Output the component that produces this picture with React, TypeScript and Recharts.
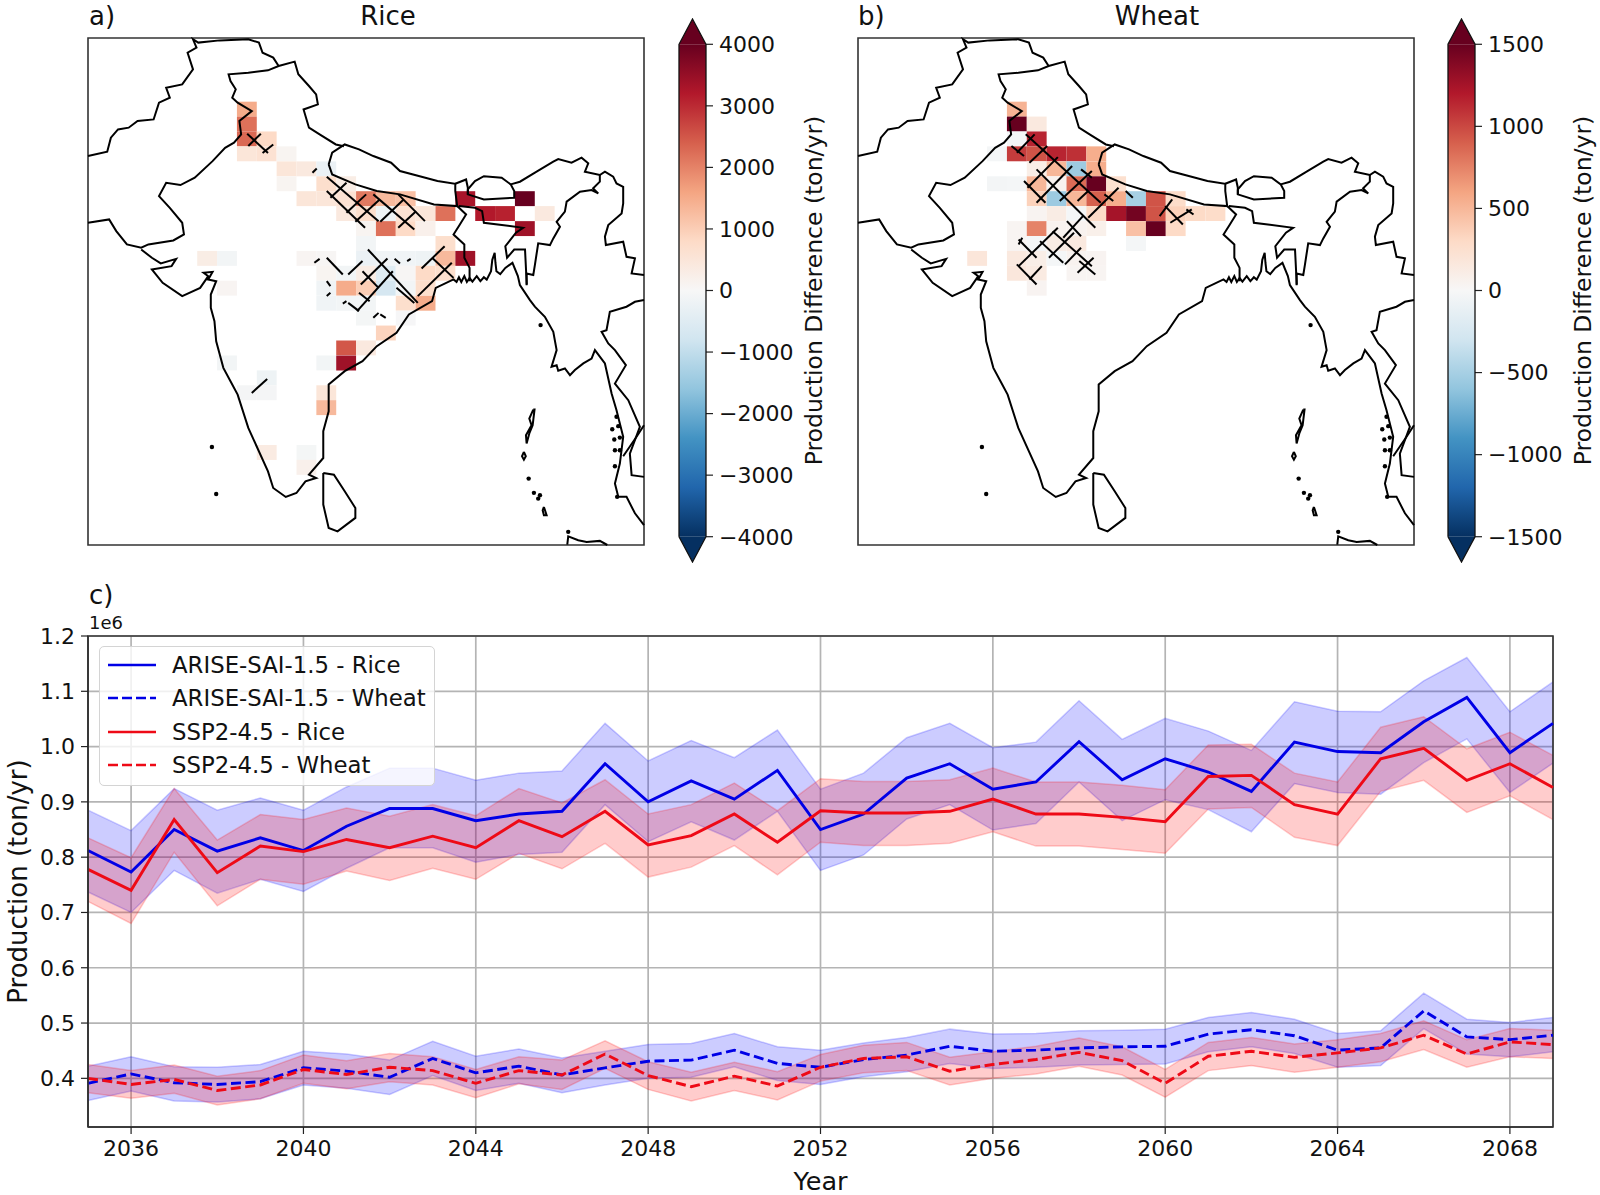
import React from 'react';
import {
  Area,
  CartesianGrid,
  ComposedChart,
  Line,
  ReferenceArea,
  ReferenceLine,
  Scatter,
  ScatterChart,
  XAxis,
  YAxis,
} from 'recharts';

const FONT = '"DejaVu Sans", sans-serif';

// ---- panel c: yearly production (million tons) ----
const years = [
  2035, 2036, 2037, 2038, 2039, 2040, 2041, 2042, 2043, 2044, 2045, 2046, 2047, 2048, 2049, 2050, 2051, 2052,
  2053, 2054, 2055, 2056, 2057, 2058, 2059, 2060, 2061, 2062, 2063, 2064, 2065, 2066, 2067, 2068, 2069,
];
const blueRice = [
  0.812, 0.773, 0.85, 0.811, 0.835, 0.812, 0.856, 0.888, 0.888, 0.866, 0.878, 0.883, 0.969, 0.9, 0.938, 0.905, 0.957,
  0.85, 0.878, 0.943, 0.969, 0.923, 0.936, 1.009, 0.94, 0.978, 0.954, 0.919, 1.008, 0.991, 0.989, 1.045, 1.089, 0.989,
  1.042,
];
const blueRiceHigh = [
  0.885, 0.848, 0.924, 0.885, 0.907, 0.885, 0.927, 0.961, 0.961, 0.939, 0.952, 0.956, 1.042, 0.974, 1.011, 0.98, 1.03,
  0.923, 0.952, 1.016, 1.042, 0.998, 1.008, 1.083, 1.013, 1.051, 1.028, 0.993, 1.081, 1.064, 1.063, 1.119, 1.161,
  1.063, 1.117,
];
const blueRiceLow = [
  0.737, 0.7, 0.776, 0.735, 0.76, 0.738, 0.78, 0.817, 0.817, 0.791, 0.805, 0.809, 0.895, 0.828, 0.864, 0.831, 0.883,
  0.776, 0.804, 0.869, 0.895, 0.849, 0.861, 0.936, 0.866, 0.904, 0.886, 0.846, 0.933, 0.917, 0.914, 0.971, 1.014,
  0.917, 0.97,
];
const redRice = [
  0.778, 0.74, 0.868, 0.772, 0.82, 0.81, 0.832, 0.817, 0.838, 0.817, 0.866, 0.837, 0.883, 0.822, 0.839, 0.878, 0.827,
  0.884, 0.88, 0.88, 0.883, 0.905, 0.878, 0.878, 0.872, 0.864, 0.946, 0.948, 0.895, 0.878, 0.978, 0.997, 0.939, 0.969,
  0.926,
];
const redRiceHigh = [
  0.835, 0.799, 0.924, 0.831, 0.877, 0.868, 0.889, 0.874, 0.895, 0.875, 0.924, 0.898, 0.94, 0.878, 0.895, 0.934,
  0.884, 0.942, 0.937, 0.937, 0.94, 0.961, 0.936, 0.936, 0.93, 0.922, 1.003, 1.004, 0.952, 0.936, 1.035, 1.054, 0.996,
  1.026, 0.984,
];
const redRiceLow = [
  0.72, 0.68, 0.809, 0.712, 0.76, 0.751, 0.775, 0.758, 0.78, 0.76, 0.807, 0.779, 0.825, 0.764, 0.782, 0.821, 0.768,
  0.827, 0.821, 0.821, 0.825, 0.846, 0.82, 0.82, 0.814, 0.807, 0.887, 0.89, 0.836, 0.821, 0.919, 0.939, 0.881, 0.911,
  0.868,
];
const blueWheat = [
  0.391, 0.408, 0.392, 0.389, 0.394, 0.419, 0.413, 0.402, 0.436, 0.41, 0.422, 0.406, 0.419, 0.431, 0.433, 0.451, 0.427,
  0.42, 0.434, 0.442, 0.458, 0.449, 0.451, 0.455, 0.457, 0.458, 0.48, 0.488, 0.477, 0.451, 0.455, 0.522, 0.475, 0.47,
  0.478,
];
const blueWheatHigh = [
  0.422, 0.439, 0.421, 0.42, 0.425, 0.449, 0.444, 0.433, 0.467, 0.44, 0.453, 0.437, 0.449, 0.461, 0.463, 0.481, 0.457,
  0.451, 0.464, 0.474, 0.489, 0.48, 0.481, 0.486, 0.487, 0.489, 0.51, 0.519, 0.507, 0.481, 0.486, 0.554, 0.507, 0.501,
  0.51,
];
const blueWheatLow = [
  0.36, 0.377, 0.359, 0.357, 0.363, 0.388, 0.382, 0.371, 0.405, 0.378, 0.391, 0.374, 0.388, 0.4, 0.402, 0.421, 0.396,
  0.389, 0.403, 0.412, 0.427, 0.418, 0.42, 0.424, 0.425, 0.426, 0.448, 0.457, 0.445, 0.42, 0.423, 0.49, 0.444, 0.439,
  0.448,
];
const redWheat = [
  0.4, 0.389, 0.398, 0.378, 0.388, 0.416, 0.407, 0.42, 0.414, 0.391, 0.414, 0.406, 0.444, 0.405, 0.385, 0.404, 0.386,
  0.42, 0.436, 0.439, 0.413, 0.425, 0.434, 0.447, 0.432, 0.391, 0.44, 0.449, 0.438, 0.446, 0.455, 0.478, 0.444, 0.466,
  0.461,
];
const redWheatHigh = [
  0.425, 0.414, 0.424, 0.404, 0.414, 0.442, 0.432, 0.445, 0.439, 0.416, 0.439, 0.433, 0.468, 0.43, 0.411, 0.429, 0.412,
  0.443, 0.46, 0.465, 0.438, 0.448, 0.458, 0.473, 0.457, 0.416, 0.465, 0.474, 0.462, 0.47, 0.481, 0.504, 0.47, 0.49,
  0.487,
];
const redWheatLow = [
  0.374, 0.364, 0.373, 0.352, 0.363, 0.391, 0.381, 0.394, 0.388, 0.365, 0.39, 0.38, 0.418, 0.38, 0.359, 0.378, 0.361,
  0.395, 0.41, 0.414, 0.388, 0.4, 0.408, 0.422, 0.406, 0.366, 0.414, 0.423, 0.411, 0.42, 0.43, 0.452, 0.42, 0.439,
  0.436,
];
const yearTicks = [2036, 2040, 2044, 2048, 2052, 2056, 2060, 2064, 2068];
const productionTicks = [0.4, 0.5, 0.6, 0.7, 0.8, 0.9, 1.0, 1.1, 1.2];
const legendItems = [
  { label: 'ARISE-SAI-1.5 - Rice', color: '#0000e6', dashed: false },
  { label: 'ARISE-SAI-1.5 - Wheat', color: '#0000e6', dashed: true },
  { label: 'SSP2-4.5 - Rice', color: '#ee0a16', dashed: false },
  { label: 'SSP2-4.5 - Wheat', color: '#ee0a16', dashed: true },
];

// ---- panels a, b: gridded difference, [lon centre, lat centre, ton/yr] ----
const riceCells = [
  [75, 32.51, 1500], [75, 31.57, 2200], [75, 30.63, 2300], [76.25, 30.63, 800], [75, 29.69, 500], [76.25, 29.69, 600],
  [77.5, 29.69, 100], [77.5, 28.74, 500], [78.75, 28.74, 400], [80, 28.74, -250], [77.5, 27.8, 100], [80, 27.8, 700],
  [81.25, 27.8, 300], [78.75, 26.86, 500], [80, 26.86, 500], [81.25, 26.86, 600], [82.5, 26.86, 2100],
  [83.75, 26.86, 1300], [85, 26.86, 1200], [88.75, 26.86, 3300], [92.5, 26.86, 4000], [81.25, 25.92, 400],
  [82.5, 25.92, 700], [83.75, 25.92, -200], [85, 25.92, 600], [86.25, 25.92, 500], [87.5, 25.92, 2200],
  [90, 25.92, 3200], [91.25, 25.92, 3100], [93.75, 25.92, 400], [82.5, 24.97, 100], [83.75, 24.97, 2200],
  [85, 24.97, 800], [86.25, 24.97, 200], [92.5, 24.97, 3400], [82.5, 24.03, -100], [87.5, 24.03, 700],
  [72.5, 23.09, 300], [73.75, 23.09, -100], [78.75, 23.09, 80], [80, 23.09, 50], [82.5, 23.09, -250],
  [83.75, 23.09, -150], [85, 23.09, -150], [86.25, 23.09, -200], [87.5, 23.09, 1300], [88.75, 23.09, 3400],
  [80, 22.15, 100], [81.25, 22.15, -100], [82.5, 22.15, 300], [83.75, 22.15, -500], [85, 22.15, 50],
  [86.25, 22.15, 800], [87.5, 22.15, 700], [73.75, 21.21, 80], [80, 21.21, -150], [81.25, 21.21, 1500],
  [82.5, 21.21, 1000], [83.75, 21.21, -700], [85, 21.21, -100], [86.25, 21.21, 700], [80, 20.26, -150],
  [81.25, 20.26, -100], [82.5, 20.26, -100], [85, 20.26, 700], [86.25, 20.26, 1500], [82.5, 19.32, -60],
  [85, 19.32, -30], [83.75, 18.38, 900], [81.25, 17.44, 2500], [82.5, 17.44, 400], [73.75, 16.49, -100],
  [80, 16.49, -100], [81.25, 16.49, 3400], [76.25, 15.55, -200], [75, 14.61, -70], [76.25, 14.61, -70],
  [80, 14.61, 500], [80, 13.67, 1300], [76.25, 10.84, 350], [78.75, 10.84, -60], [78.75, 9.9, 200],
];
const wheatCells = [
  [75, 32.51, 520], [75, 31.57, 1500], [76.25, 31.57, 150], [75, 30.63, -20], [76.25, 30.63, 1150],
  [73.75, 29.69, -20], [75, 29.69, 1050], [76.25, 29.69, 950], [77.5, 29.69, 1150], [78.75, 29.69, 1100],
  [80, 29.69, 550], [76.25, 28.74, 100], [77.5, 28.74, 500], [78.75, 28.74, -550], [80, 28.74, 550],
  [73.75, 27.8, -30], [75, 27.8, -20], [76.25, 27.8, 500], [77.5, 27.8, 50], [78.75, 27.8, 850], [80, 27.8, 1500],
  [81.25, 27.8, 250], [76.25, 26.86, 350], [77.5, 26.86, -550], [78.75, 26.86, 500], [80, 26.86, 900],
  [81.25, 26.86, 550], [82.5, 26.86, -500], [83.75, 26.86, 950], [85, 26.86, 280], [76.25, 25.92, 40],
  [77.5, 25.92, 120], [78.75, 25.92, -20], [80, 25.92, 300], [81.25, 25.92, 1250], [82.5, 25.92, 1450],
  [83.75, 25.92, 950], [85, 25.92, 350], [86.25, 25.92, 300], [87.5, 25.92, 280], [75, 24.97, 30],
  [76.25, 24.97, 750], [77.5, 24.97, 50], [78.75, 24.97, 50], [80, 24.97, 80], [82.5, 24.97, 450],
  [83.75, 24.97, 1500], [85, 24.97, 300], [75, 24.03, 30], [76.25, 24.03, -20], [77.5, 24.03, 120],
  [78.75, 24.03, 150], [82.5, 24.03, -20], [72.5, 23.09, 180], [75, 23.09, 150], [76.25, 23.09, 100],
  [77.5, 23.09, -20], [78.75, 23.09, 50], [80, 23.09, 40], [75, 22.15, 170], [76.25, 22.15, 130],
  [78.75, 22.15, 30], [80, 22.15, 30], [76.25, 21.21, 40],
];
// significance hatching, [lon, lat, lon, lat]
const riceHatch = [
  [75.02, 30.96, 76.33, 29.74], [75.88, 30.96, 75.09, 30.18], [76.66, 30.28, 75.99, 29.74],
  [80.03, 28.24, 83.29, 25.44], [80.03, 27.34, 82.44, 25.02], [82.96, 27.13, 85.54, 24.92],
  [84.53, 27.13, 86.21, 25.44], [83.36, 26.81, 81.83, 25.4], [84.87, 26.81, 83.4, 25.4],
  [85.65, 26.07, 84.53, 25.02], [82.51, 27.13, 81.27, 25.97], [81.27, 27.86, 80.26, 26.92],
  [82.62, 23.65, 85.76, 20.28], [80.03, 23.13, 81.04, 22.07], [79.25, 22.81, 79.58, 23.06],
  [84.3, 23.06, 84.64, 22.77], [85.09, 22.92, 85.31, 23.06], [87.45, 23.86, 86, 22.45],
  [87.9, 22.81, 85.76, 20.71], [83.85, 23.08, 82.17, 21.44], [82.28, 22.92, 81.38, 22.07],
  [84.19, 22.28, 81.94, 19.76], [82.28, 22.28, 83.29, 21.23], [82.06, 20.92, 82.73, 20.39],
  [81.38, 20.28, 82.06, 19.76], [86.66, 23.13, 88.01, 21.86], [80.03, 21.65, 80.26, 21.34],
  [80.03, 20.71, 80.26, 20.92], [81.04, 20.24, 81.27, 20.39], [82.96, 19.34, 83.29, 19.65],
  [83.4, 19.55, 83.74, 19.34], [75.31, 14.6, 76.28, 15.48], [79.13, 28.49, 79.4, 28.76],
  [84.42, 21.23, 85.54, 20.28],
];
const wheatHatch = [
  [75.56, 30.92, 80.28, 26.6], [74.66, 30.18, 75.45, 29.55], [76.24, 28.71, 79.94, 25.02],
  [75.45, 27.97, 76.8, 26.6], [79.04, 28.71, 79.72, 28.18], [76.12, 30.92, 75, 29.76],
  [76.91, 30.18, 75.79, 29.13], [77.58, 29.48, 75.67, 27.55], [78.48, 28.92, 76.24, 26.6],
  [79.72, 28.6, 77.7, 26.71], [79.49, 27.34, 78.82, 26.71], [81.4, 27.55, 79.49, 25.65],
  [80.51, 27.13, 81.07, 26.71], [81.85, 27.34, 82.3, 26.92], [84.78, 26.81, 83.99, 25.76],
  [84.33, 26.39, 85.45, 25.23], [86.01, 26.18, 84.66, 25.34], [85.67, 26.18, 86.12, 25.86],
  [79.16, 25.76, 77.92, 24.39], [77.58, 25.02, 75.11, 22.6], [75.11, 24.28, 76.24, 23.13],
  [76.46, 24.18, 77.92, 22.81], [77.25, 24.81, 79.72, 22.6], [79.04, 23.76, 78.03, 22.71],
  [75.11, 23.97, 75.34, 24.39], [76.57, 22.6, 75.79, 21.76], [75, 22.71, 76.24, 21.44],
  [78.93, 22.92, 79.94, 22.07], [79.83, 23.13, 78.82, 22.18], [78.6, 24.71, 77.02, 23.13],
  [78.15, 25.44, 79.04, 24.49],
];

// ---- coastlines and borders, [lon, lat] ----
const borderLines = [
  // Pakistan coast, India-Pakistan border, Kashmir, Himalaya
  [[65, 25.34], [66.33, 25.55], [66.78, 24.81], [67.45, 23.97], [68.35, 23.76], [68.8, 23.97], [70.37, 24.22],
    [71.04, 24.6], [70.93, 25.34], [70.15, 26.28], [69.47, 27.02], [69.92, 27.86], [70.82, 27.72], [71.72, 28.18],
    [72.84, 29.23], [73.63, 30.07], [74.19, 30.39], [74.64, 30.92], [74.53, 31.76], [75.31, 32.39], [74.42, 32.92],
    [74.08, 33.23], [74.3, 33.76], [73.97, 34.28], [73.85, 34.71], [75.09, 34.81], [76.33, 34.96], [77, 35.23],
    [78.01, 35.51], [78.24, 34.71], [78.91, 33.97], [79.36, 33.44], [79.47, 32.81], [78.57, 32.49], [78.91, 31.34],
    [79.58, 30.92], [80.6, 30.28], [81.11, 30.17]],
  // Afghanistan-Pakistan and the northern edge
  [[65, 29.55], [66.21, 29.82], [66.44, 30.71], [66.89, 31.23], [67.56, 31.34], [68.12, 31.76], [69.13, 31.86],
    [69.47, 32.92], [70.15, 33.23], [69.92, 33.86], [70.93, 34.07], [71.61, 35.02], [71.27, 36.07], [71.83, 36.39],
    [71.61, 36.92], [71.94, 36.71], [73.29, 36.85], [75.09, 36.92], [75.76, 36.71], [75.99, 36.07], [76.66, 35.76],
    [77, 35.23]],
  // Nepal
  [[80.15, 29.02], [80.37, 29.76], [81.16, 30.28], [82.06, 29.97], [82.96, 29.55], [84.08, 29.13], [84.64, 28.6],
    [85.88, 28.28], [87, 27.97], [88.12, 27.8], [88.12, 27.34], [88.24, 26.39], [86.78, 26.49], [84.64, 27.13],
    [83.18, 27.34], [81.83, 27.76], [80.37, 28.39], [80.15, 29.02]],
  // Sikkim
  [[88.12, 27.8], [88.8, 28.07], [88.91, 27.55], [88.91, 27.13]],
  // Bhutan
  [[88.91, 27.44], [89.36, 27.97], [89.92, 28.28], [91.04, 28.18], [91.61, 27.76], [91.83, 27.34], [91.83, 26.92],
    [89.92, 26.81], [88.91, 27.13], [88.91, 27.44]],
  // Arunachal and the Myanmar-China border
  [[91.61, 27.76], [92.19, 27.93], [93.24, 28.56], [94.29, 29.19], [94.6, 29.36], [95.44, 29.13], [96.07, 29.45],
    [96.49, 29.09], [96.28, 28.56], [97.22, 28.35], [97.54, 28.56], [98.06, 28.25], [98.27, 27.82], [98.69, 27.61],
    [98.69, 26.56], [98.59, 25.93], [97.75, 25.19], [97.54, 24.46], [97.6, 23.93], [98.69, 24.14], [98.9, 23.19],
    [99.43, 23.09], [99.22, 22.14], [100, 22.04]],
  // India-Myanmar
  [[97.22, 28.35], [97.22, 27.93], [96.8, 27.51], [97.12, 27.19], [96.7, 27.4], [95.97, 27.3], [95.13, 26.67],
    [95.02, 26.04], [94.5, 25.4], [94.71, 25.09], [94.29, 24.35], [94.08, 23.93], [93.34, 24.04], [93.13, 22.67],
    [93.03, 22.04], [92.61, 22.14], [92.61, 21.4]],
  // Bangladesh, west side
  [[88.24, 26.39], [88.8, 25.86], [88.35, 25.13], [88.01, 24.6], [88.69, 23.97], [88.69, 23.13], [89.02, 22.49],
    [89.02, 21.65]],
  // Bangladesh, north and east side
  [[88.35, 26.39], [89.36, 26.28], [89.81, 26.07], [89.92, 25.34], [92.39, 25.02], [91.94, 24.71], [91.27, 23.86],
    [91.38, 23.13], [91.83, 23.65], [92.51, 23.65], [92.62, 21.44]],
  // Coast from the Rann round India, Bangladesh and Myanmar to the Malay peninsula
  [[68.35, 23.65], [69.02, 23.13], [69.58, 22.77], [70.55, 23.06], [70.26, 22.6], [69.02, 22.39], [69.7, 21.55],
    [70.93, 20.71], [72.06, 21.23], [72.57, 21.97], [72.28, 22.18], [72.84, 22.24], [72.57, 21.76], [73.07, 21.65],
    [72.73, 20.81], [72.73, 19.97], [72.96, 19.13], [73.07, 17.86], [73.52, 16.18], [73.97, 15.34], [74.42, 14.49],
    [75.09, 12.39], [76.33, 9.65], [76.66, 8.6], [77.45, 8.03], [78.12, 8.28], [78.69, 9.02], [79.36, 9.23],
    [78.91, 9.44], [79.81, 10.49], [79.81, 12.18], [80.15, 13.44], [80.15, 15.13], [81.16, 15.97], [82.28, 16.6],
    [83.18, 17.55], [84.42, 18.39], [85.2, 19.55], [86.66, 20.39], [86.89, 21.23], [88.01, 21.76], [88.2, 21.6],
    [88.35, 21.9], [88.5, 21.6], [88.69, 21.97], [88.85, 21.6], [89.02, 21.85], [89.2, 21.62], [89.47, 21.97],
    [89.7, 21.65], [89.92, 21.9], [90.1, 21.75], [90.37, 22.28], [90.45, 23], [90.6, 23.44], [90.65, 22.8],
    [90.71, 22.28], [90.95, 22.1], [91.27, 22.49], [91.72, 22.81], [92.06, 21.97], [92.19, 21.4], [92.82, 20.46],
    [93.13, 20.04], [93.76, 19.4], [94.29, 18.46], [94.5, 17.3], [94.18, 16.25], [94.5, 16.35], [94.6, 16],
    [95.02, 16.14], [95.34, 15.72], [95.65, 16.04], [96.18, 16.46], [96.7, 16.77], [96.91, 17.3], [97.54, 16.46],
    [97.96, 14.56], [98.27, 13.51], [98.69, 11.83], [98.48, 10.14], [98.17, 8.88], [98.38, 8.04], [98.9, 8.04],
    [99.43, 7], [100, 6.25]],
  // Myanmar-Thailand
  [[100, 20.46], [99.43, 20.35], [98.9, 20.04], [97.85, 19.72], [97.64, 18.56], [97.33, 18.46], [97.75, 17.72],
    [98.17, 17.3], [98.86, 16.35], [98.17, 15.19], [99.01, 14.14], [99.74, 12.46], [99.11, 10.77], [99.22, 9.41],
    [100, 9.3]],
  [[100, 12.56], [99.53, 11.83], [98.69, 10.6]],
  // Sri Lanka
  [[79.81, 9.55], [80.48, 9.44], [81.16, 8.39], [81.83, 7.34], [81.83, 6.71], [80.71, 5.86], [80.15, 6.07],
    [79.81, 7.55], [79.81, 9.55]],
  // Andaman and Nicobar
  [[93.03, 13.55], [92.78, 12.98], [92.92, 12.56], [92.57, 11.93], [92.61, 11.41], [92.78, 12.04], [92.99, 12.56],
    [93.11, 13.55], [93.03, 13.55]],
  [[92.44, 10.88], [92.32, 10.6], [92.44, 10.38], [92.56, 10.6], [92.44, 10.88]],
  [[93.7, 7.4], [93.87, 6.88], [93.7, 6.88], [93.62, 7.19], [93.7, 7.4]],
  // Sumatra
  [[95.17, 5.03], [95.23, 5.55], [95.86, 5.3], [96.39, 5.19], [97.22, 5.26], [97.69, 5]],
];
const islandDots = [
  [72.8, 11.19], [73.07, 8.22], [92.74, 9.19], [93.07, 8.29], [93.45, 8.14], [93.34, 7.93], [95.23, 5.83],
  [98.27, 13.09], [98.38, 12.5], [98, 12.31], [98.48, 11.78], [98.13, 11.66], [98.17, 10.98], [98.48, 10.98],
  [98.17, 9.97], [98.31, 8.04], [93.49, 18.88],
];

const riceTicks = [-4000, -3000, -2000, -1000, 0, 1000, 2000, 3000, 4000];
const wheatTicks = [-1500, -1000, -500, 0, 500, 1000, 1500];
const rdbuStops = [
  '#053061', '#2166ac', '#4393c3', '#92c5de', '#d1e5f0', '#f7f7f7', '#fddbc7', '#f4a582', '#d6604d', '#b2182b',
  '#67001f',
];

const hexToRgb = (hex: string) => [1, 3, 5].map((i) => parseInt(hex.slice(i, i + 2), 16));

const cellColor = (value: number, vmax: number) => {
  const t = Math.max(0, Math.min(0.9999, (value / vmax + 1) / 2)) * (rdbuStops.length - 1);
  const i = Math.floor(t);
  const a = hexToRgb(rdbuStops[i]);
  const b = hexToRgb(rdbuStops[i + 1]);
  const c = a.map((v, k) => Math.round(v + (b[k] - v) * (t - i)));
  return `rgb(${c[0]},${c[1]},${c[2]})`;
};

const toPoints = (line: number[][]) => line.map(([lon, lat]) => ({ lon, lat }));
const NoDot = () => null;
const IslandDot = (props: any) => <circle cx={props.cx} cy={props.cy} r={2.2} fill="#000" />;

const lineRows = years.map((year, i) => ({
  year,
  blueRice: blueRice[i],
  redRice: redRice[i],
  blueWheat: blueWheat[i],
  redWheat: redWheat[i],
  blueRiceBand: [blueRiceLow[i], blueRiceHigh[i]],
  redRiceBand: [redRiceLow[i], redRiceHigh[i]],
  blueWheatBand: [blueWheatLow[i], blueWheatHigh[i]],
  redWheatBand: [redWheatLow[i], redWheatHigh[i]],
}));

const MapPanel = ({ cells, hatch, vmax }: { cells: number[][]; hatch: number[][]; vmax: number }) => (
  <ScatterChart width={558} height={509} margin={{ top: 1, right: 1, bottom: 1, left: 1 }}>
    <XAxis type="number" dataKey="lon" domain={[65, 100]} hide />
    <YAxis type="number" dataKey="lat" domain={[5, 37]} hide />
    {cells.map(([lon, lat, value]) => (
      <ReferenceArea
        key={`${lon}-${lat}`}
        x1={lon - 0.625}
        x2={lon + 0.625}
        y1={lat - 0.471}
        y2={lat + 0.471}
        fill={cellColor(value, vmax)}
        fillOpacity={1}
        stroke="none"
      />
    ))}
    {borderLines.map((line, i) => (
      <Scatter
        key={i}
        data={toPoints(line)}
        line={{ stroke: '#000', strokeWidth: 2 }}
        shape={NoDot}
        isAnimationActive={false}
      />
    ))}
    {hatch.map(([x1, y1, x2, y2], i) => (
      <ReferenceLine
        key={i}
        segment={[{ x: x1, y: y1 }, { x: x2, y: y2 }]}
        stroke="#000"
        strokeWidth={2}
      />
    ))}
    <Scatter data={toPoints(islandDots)} shape={IslandDot} isAnimationActive={false} />
    <ReferenceArea x1={65} x2={100} y1={5} y2={37} fill="none" stroke="#333" strokeWidth={1.6} />
  </ScatterChart>
);

const ColorBar = ({ id, vmax, tipValue, ticks }: { id: string; vmax: number; tipValue: number; ticks: number[] }) => {
  const triangleRows = [
    { x: 0, top: [vmax, vmax], bottom: [-vmax, -vmax] },
    { x: 0.5, top: [vmax, tipValue], bottom: [-tipValue, -vmax] },
    { x: 1, top: [vmax, vmax], bottom: [-vmax, -vmax] },
  ];
  const outline = [
    { x: 0, y: -vmax },
    { x: 0, y: vmax },
    { x: 0.5, y: tipValue },
    { x: 1, y: vmax },
    { x: 1, y: -vmax },
    { x: 0.5, y: -tipValue },
    { x: 0, y: -vmax },
  ];
  return (
    <ComposedChart width={152} height={545} data={triangleRows} margin={{ top: 1, right: 2, bottom: 1, left: 1 }}>
      <defs>
        <linearGradient id={id} x1="0" y1="0" x2="0" y2="1">
          {[...rdbuStops].reverse().map((color, i) => (
            <stop key={color} offset={`${i * 10}%`} stopColor={color} />
          ))}
        </linearGradient>
      </defs>
      <XAxis type="number" dataKey="x" domain={[0, 1]} hide />
      <YAxis
        type="number"
        dataKey="y"
        orientation="right"
        width={122}
        domain={[-tipValue, tipValue]}
        ticks={ticks}
        interval={0}
        axisLine={false}
        tickSize={7}
        tickMargin={6}
        tick={{ fontSize: 22, fill: '#111', fontFamily: FONT, textAnchor: 'start' }}
        tickLine={{ stroke: '#222', strokeWidth: 1.2 }}
        tickFormatter={(v: number) => (v < 0 ? `\u2212${-v}` : `${v}`)}
        label={{
          value: 'Production Difference (ton/yr)',
          angle: -90,
          position: 'insideRight',
          offset: 0,
          dx: -14,
          style: { fontSize: 23.5, fill: '#111', fontFamily: FONT, textAnchor: 'middle' },
        }}
      />
      <ReferenceArea x1={0} x2={1} y1={-vmax} y2={vmax} fill={`url(#${id})`} fillOpacity={1} stroke="none" />
      <Area dataKey="top" type="linear" fill="#67001f" fillOpacity={1} stroke="none" isAnimationActive={false} />
      <Area dataKey="bottom" type="linear" fill="#053061" fillOpacity={1} stroke="none" isAnimationActive={false} />
      <Scatter data={outline} line={{ stroke: '#111', strokeWidth: 1.3 }} shape={NoDot} isAnimationActive={false} />
    </ComposedChart>
  );
};

const LegendBox = () => (
  <div
    style={{
      position: 'absolute',
      left: 99,
      top: 646,
      width: 336,
      height: 140,
      boxSizing: 'border-box',
      background: 'rgba(255,255,255,0.8)',
      border: '1.3px solid #d4d4d4',
      borderRadius: 5,
    }}
  >
    {legendItems.map((item, i) => (
      <div
        key={item.label}
        style={{ position: 'absolute', left: 0, top: 1.5 + i * 33.4, height: 33, display: 'flex', alignItems: 'center' }}
      >
        <svg width={72} height={10} style={{ flex: 'none' }}>
          <line
            x1={8}
            x2={56}
            y1={5}
            y2={5}
            stroke={item.color}
            strokeWidth={2.7}
            strokeDasharray={item.dashed ? '10 4' : undefined}
          />
        </svg>
        <span style={{ fontSize: 22.8, color: '#111', whiteSpace: 'nowrap' }}>{item.label}</span>
      </div>
    ))}
  </div>
);

const Caption = ({ text, left, center, top, size = 26 }: any) => (
  <div
    style={{
      position: 'absolute',
      left,
      top,
      fontSize: size,
      lineHeight: 1,
      color: '#111',
      transform: center ? 'translateX(-50%)' : undefined,
      whiteSpace: 'nowrap',
    }}
  >
    {text}
  </div>
);

const bandStyle = (color: string) => ({
  type: 'linear' as const,
  fill: color,
  fillOpacity: 0.2,
  stroke: color,
  strokeOpacity: 0.2,
  strokeWidth: 1.5,
  dot: false,
  activeDot: false,
  isAnimationActive: false,
});

const ProductionChart = () => (
  <ComposedChart width={1600} height={595} data={lineRows} margin={{ top: 36, right: 47, bottom: 0, left: 0 }}>
    <CartesianGrid stroke="#b4b4b4" strokeWidth={1.7} />
    <XAxis
      type="number"
      dataKey="year"
      domain={[2035, 2069]}
      ticks={yearTicks}
      interval={0}
      height={68}
      tickSize={7}
      tickMargin={6}
      axisLine={{ stroke: '#333', strokeWidth: 1.6 }}
      tickLine={{ stroke: '#222', strokeWidth: 1.2 }}
      tick={{ fontSize: 22, fill: '#111', fontFamily: FONT }}
      label={{
        value: 'Year',
        position: 'insideBottom',
        offset: 0,
        dy: -5,
        style: { fontSize: 25.5, fill: '#111', fontFamily: FONT },
      }}
    />
    <YAxis
      type="number"
      domain={[0.312, 1.2]}
      allowDataOverflow
      ticks={productionTicks}
      interval={0}
      width={88}
      tickSize={7}
      tickMargin={6}
      axisLine={{ stroke: '#333', strokeWidth: 1.6 }}
      tickLine={{ stroke: '#222', strokeWidth: 1.2 }}
      tick={{ fontSize: 22, fill: '#111', fontFamily: FONT }}
      tickFormatter={(v: number) => v.toFixed(1)}
      label={{
        value: 'Production (ton/yr)',
        angle: -90,
        position: 'insideLeft',
        offset: 0,
        dx: 18,
        style: { fontSize: 26, fill: '#111', fontFamily: FONT, textAnchor: 'middle' },
      }}
    />
    <Area dataKey="blueRiceBand" {...bandStyle('#0000ff')} />
    <Area dataKey="redRiceBand" {...bandStyle('#ff0000')} />
    <Area dataKey="blueWheatBand" {...bandStyle('#0000ff')} />
    <Area dataKey="redWheatBand" {...bandStyle('#ff0000')} />
    <Line dataKey="blueRice" stroke="#0000e6" strokeWidth={2.9} dot={false} isAnimationActive={false} />
    <Line dataKey="blueWheat" stroke="#0000e6" strokeWidth={2.9} strokeDasharray="10 4.5" dot={false} isAnimationActive={false} />
    <Line dataKey="redRice" stroke="#ee0a16" strokeWidth={2.9} dot={false} isAnimationActive={false} />
    <Line dataKey="redWheat" stroke="#ee0a16" strokeWidth={2.9} strokeDasharray="10 4.5" dot={false} isAnimationActive={false} />
    <ReferenceArea x1={2035} x2={2069} y1={0.312} y2={1.2} fill="none" stroke="#333" strokeWidth={1.6} />
  </ComposedChart>
);

const App = () => (
  <div style={{ position: 'absolute', left: 0, top: 0, width: 1600, height: 1195, fontFamily: FONT, background: '#fff', overflow: 'hidden' }}>
    <Caption text="a)" left={89} top={3} />
    <Caption text="Rice" left={388} top={3} center />
    <Caption text="b)" left={858} top={3} />
    <Caption text="Wheat" left={1157} top={3} center />
    <Caption text="c)" left={89} top={582} />
    <Caption text="1e6" left={89} top={614} size={18} />

    <div style={{ position: 'absolute', left: 87, top: 37 }}>
      <MapPanel cells={riceCells} hatch={riceHatch} vmax={4000} />
    </div>
    <div style={{ position: 'absolute', left: 857, top: 37 }}>
      <MapPanel cells={wheatCells} hatch={wheatHatch} vmax={1500} />
    </div>
    <div style={{ position: 'absolute', left: 678, top: 17.5 }}>
      <ColorBar id="rdbu-rice" vmax={4000} tipValue={4411} ticks={riceTicks} />
    </div>
    <div style={{ position: 'absolute', left: 1447, top: 17.5 }}>
      <ColorBar id="rdbu-wheat" vmax={1500} tipValue={1654} ticks={wheatTicks} />
    </div>
    <div style={{ position: 'absolute', left: 0, top: 600 }}>
      <ProductionChart />
    </div>
    <LegendBox />
  </div>
);

export default App;
